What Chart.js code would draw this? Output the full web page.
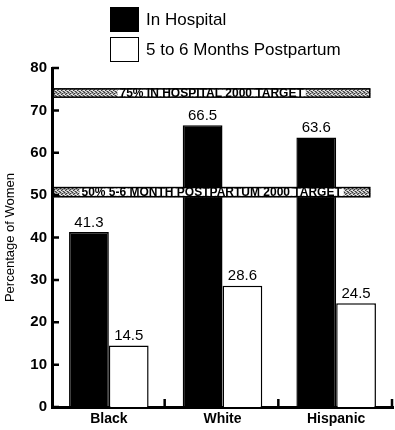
<!DOCTYPE html>
<html>
<head>
<meta charset="utf-8">
<script src="https://cdn.jsdelivr.net/npm/chart.js@4.4.0/dist/chart.umd.min.js"></script>
<style>
  body { margin: 0; background: #fff; }
  #wrap { position: relative; width: 395px; height: 430px; }
  #legend { position: absolute; left: 110px; top: 7px; font: 17px "Liberation Sans", Arial, sans-serif; color: #000; }
  .item { display: flex; align-items: center; height: 25px; margin-bottom: 5px; }
  .box { width: 27px; height: 23px; border: 1px solid #000; margin-right: 7px; }
</style>
</head>
<body>
<div id="wrap">
  <canvas id="myChart" width="395" height="430"></canvas>
  <div id="legend"></div>
</div>
<script>
const categories = ["Black", "White", "Hispanic"];
const seriesNames = ["In Hospital", "5 to 6 Months Postpartum"];
const inHospital = [41.3, 66.5, 63.6];
const postpartum = [14.5, 28.6, 24.5];
const yTicks = [0, 10, 20, 30, 40, 50, 60, 70, 80];

// target bands (low / high value)
const targetLabels = ["75% IN HOSPITAL 2000 TARGET", "50% 5-6 MONTH POSTPARTUM 2000 TARGET"];
const targetLow = [73.0, 49.5];
const targetHigh = [75.2, 51.9];

const FONT = '"Liberation Sans", Arial, sans-serif';

//grey stipple used for the target bands
function makePattern() {
  let c = document.createElement('canvas');
  c.width = 4; c.height = 4;
  let g = c.getContext('2d');
  g.fillStyle = '#9a9a9a';
  g.fillRect(0, 0, 4, 4);
  g.fillStyle = '#3a3a3a';
  g.fillRect(0, 0, 1, 1); g.fillRect(2, 1, 1, 1); g.fillRect(1, 2, 1, 1); g.fillRect(3, 3, 1, 1);
  g.fillStyle = '#e8e8e8';
  g.fillRect(2, 0, 1, 1); g.fillRect(0, 2, 1, 1); g.fillRect(3, 2, 1, 1); g.fillRect(1, 3, 1, 1);
  return g.createPattern(c, 'repeat');
}

const extras = {
  id: 'extras',
  afterDatasetsDraw(chart) {
    const ctx = chart.ctx;
    const x = chart.scales.x, y = chart.scales.y;
    const area = chart.chartArea;
    ctx.save();

    // value labels over bars
    ctx.fillStyle = '#000';
    ctx.font = '15px ' + FONT;
    ctx.textAlign = 'center';
    ctx.textBaseline = 'bottom';
    chart.data.datasets.forEach((ds, i) => {
      chart.getDatasetMeta(i).data.forEach((bar, j) => {
        ctx.fillText(ds.data[j].toFixed(1), bar.x, bar.y - 2);
      });
    });

    // target bands
    const pat = makePattern();
    const bandRight = x.getPixelForValue(2) + (x.getPixelForValue(1) - x.getPixelForValue(0)) * 0.3;
    targetLabels.forEach((txt, i) => {
      const top = y.getPixelForValue(targetHigh[i]);
      const bot = y.getPixelForValue(targetLow[i]);
      const left = area.left + 1;
      ctx.fillStyle = pat;
      ctx.fillRect(left, top, bandRight - left, bot - top);
      ctx.strokeStyle = '#000';
      ctx.lineWidth = 1.5;
      ctx.strokeRect(left + 0.5, top + 0.5, bandRight - left - 1, bot - top - 1);
      ctx.font = 'bold 12px ' + FONT;
      const w = ctx.measureText(txt).width;
      const cx = (left + bandRight) / 2;
      ctx.fillStyle = '#fff';
      ctx.fillRect(cx - w / 2 - 2, top + 1.5, w + 4, bot - top - 3);
      ctx.fillStyle = '#000';
      ctx.textBaseline = 'middle';
      ctx.fillText(txt, cx, (top + bot) / 2 + 0.5);
    });

    // inward tick marks
    ctx.strokeStyle = '#000';
    ctx.lineWidth = 2.5;
    ctx.beginPath();
    yTicks.forEach(v => {
      const py = y.getPixelForValue(v);
      ctx.moveTo(area.left, py);
      ctx.lineTo(area.left + 7, py);
    });
    const half = (x.getPixelForValue(1) - x.getPixelForValue(0)) / 2;
    categories.forEach((c, i) => {
      const px = x.getPixelForValue(i) + half - 1;
      ctx.moveTo(px, area.bottom);
      ctx.lineTo(px, area.bottom - 8);
    });
    ctx.stroke();
    ctx.restore();
  }
};

const myChart = document.getElementById('myChart');

let barChart = new Chart(myChart, {
  type: 'bar',
  data: {
    labels: categories,
    datasets: [{
      label: seriesNames[0],
      data: inHospital,
      backgroundColor: '#000',
      borderColor: '#000',
      borderWidth: 1.5
    }, {
      label: seriesNames[1],
      data: postpartum,
      backgroundColor: '#fff',
      borderColor: '#000',
      borderWidth: 1.5
    }]
  },
  options: {
    responsive: false,
    animation: false,
    categoryPercentage: 0.7,
    barPercentage: 1.0,
    layout: { padding: { top: 68, right: 2, left: 0, bottom: 0 } },
    plugins: {
      legend: { display: false },
      tooltip: { enabled: false }
    },
    scales: {
      x: {
        grid: { display: false, drawTicks: false },
        border: { color: '#000', width: 3 },
        ticks: { color: '#000', font: { family: FONT, size: 14, weight: 'bold' }, padding: 4 },
        afterFit(scale) { scale.height = 23; }
      },
      y: {
        min: 0,
        max: 80,
        afterBuildTicks(scale) { scale.ticks = yTicks.map(v => ({ value: v })); },
        grid: { display: false, drawTicks: false },
        border: { color: '#000', width: 3 },
        ticks: { color: '#000', font: { family: FONT, size: 15, weight: 'bold' }, padding: 5 },
        title: {
          display: true,
          text: 'Percentage of Women',
          color: '#000',
          font: { family: FONT, size: 13 },
          padding: { top: 3, bottom: 0 }
        },
        afterFit(scale) { scale.width = 52; }
      }
    }
  },
  plugins: [extras]
});

// legend built from the datasets
const legend = document.getElementById('legend');
barChart.data.datasets.forEach(ds => {
  let item = document.createElement('div');
  item.className = 'item';
  let box = document.createElement('div');
  box.className = 'box';
  box.style.background = ds.backgroundColor;
  let label = document.createElement('span');
  label.textContent = ds.label;
  item.appendChild(box);
  item.appendChild(label);
  legend.appendChild(item);
});
</script>
</body>
</html>
